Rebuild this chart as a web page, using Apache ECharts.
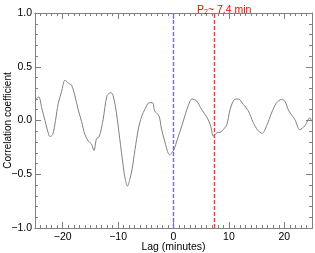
<!DOCTYPE html>
<html><head><meta charset="utf-8">
<script src="https://cdn.jsdelivr.net/npm/echarts@6/dist/echarts.min.js"></script>
<style>html,body{margin:0;padding:0;background:#fff}#c{width:315px;height:253px}</style>
</head><body><div id="c"></div>
<script>
var lags = [-25, -24.6, -24.3, -23.8, -23.2, -22.7, -22.3, -21.8, -21.3, -20.8, -20.2, -19.6, -19.2, -18.8, -18.4, -17.8, -17.2, -16.6, -16.0, -15.4, -14.8, -14.35, -13.9, -13.4, -12.7, -12.0, -11.3, -10.9, -10.3, -9.7, -9.06, -8.7, -8.3, -7.9, -7.5, -6.95, -6.35, -5.74, -5.1, -4.4, -3.76, -3.4, -2.6, -2.2, -1.6, -0.7, -0.3, 0.1, 0.66, 1.5, 2.4, 3.0, 3.3, 4.2, 5.1, 6.1, 6.7, 7.2, 7.8, 8.4, 8.7, 9.6, 10.2, 11.0, 11.7, 12.6, 13.5, 14.4, 15.2, 16.0, 16.8, 17.7, 18.6, 19.5, 20.1, 20.8, 21.9, 22.8, 23.7, 24.6, 25];
var corr = [0.19, 0.21, 0.22, 0.12, 0.0, -0.1, -0.15, -0.13, 0.0, 0.16, 0.27, 0.375, 0.36, 0.34, 0.33, 0.23, 0.1, -0.01, -0.13, -0.19, -0.22, -0.28, -0.17, -0.15, 0.01, 0.23, 0.26, 0.23, 0.07, -0.17, -0.43, -0.55, -0.61, -0.55, -0.46, -0.27, -0.08, 0.04, 0.11, 0.165, 0.165, 0.09, 0.04, -0.07, -0.19, -0.32, -0.3, -0.27, -0.18, -0.05, 0.1, 0.18, 0.2, 0.18, 0.1, 0.025, -0.05, -0.145, -0.115, -0.11, -0.1, -0.04, 0.1, 0.195, 0.2, 0.15, 0.09, -0.02, -0.09, -0.12, -0.05, 0.07, 0.165, 0.195, 0.18, 0.09, 0.01, -0.085, -0.05, 0.025, -0.01];
var xMajorTicks = [-20, -10, 0, 10, 20];
var xTickLabels = ['\u221220', '\u221210', '0', '10', '20'];
var yTickLabels = {'-1': '\u22121.0', '-0.5': '\u22120.5', '0': '0.0', '0.5': '0.5', '1': '1.0'};
var markerLags = [0, 7.4];
var markerColors = ['#6a6aff', '#ff3333'];

var F = 'Liberation Sans, Arial, Helvetica, sans-serif';
var chart = echarts.init(document.getElementById('c'));
function axLine() { return {show: true, onZero: false, lineStyle: {color: '#808080', width: 1}}; }
function xAx(pos, major, labels) {
  var a = {
    type: 'value', position: pos, min: -25, max: 25, interval: 1,
    axisLine: axLine(), splitLine: {show: false},
    axisTick: {show: true, inside: true, length: major ? 6 : 3, lineStyle: {color: '#808080'}},
    axisLabel: {show: false}
  };
  if (major) a.axisTick.customValues = xMajorTicks;
  if (labels) a.axisLabel = {show: true, customValues: xMajorTicks, color: '#000', fontFamily: F, fontSize: 10.5, margin: 4,
    formatter: function (v) { return xTickLabels[xMajorTicks.indexOf(v)]; }};
  return a;
}
function yAx(pos, labels) {
  return {
    type: 'value', position: pos, min: -1, max: 1, interval: 0.5,
    axisLine: axLine(), splitLine: {show: false},
    axisTick: {show: true, inside: true, length: 6, lineStyle: {color: '#808080'}},
    minorTick: {show: true, splitNumber: 5, length: 3, lineStyle: {color: '#808080'}},
    axisLabel: labels ? {show: true, color: '#000', fontFamily: F, fontSize: 10.5, margin: 3,
      formatter: function (v) { return yTickLabels[String(v)]; }} : {show: false},
    name: labels ? 'Correlation coefficient' : '', nameLocation: 'middle', nameGap: 27, nameMoveOverlap: false,
    nameTextStyle: {color: '#000', fontFamily: F, fontSize: 10, verticalAlign: 'middle'}
  };
}
var xa1 = xAx('bottom', false, true);
xa1.name = 'Lag (minutes)'; xa1.nameLocation = 'middle'; xa1.nameGap = 14; xa1.nameMoveOverlap = false;
xa1.nameTextStyle = {color: '#000', fontFamily: F, fontSize: 10.5, verticalAlign: 'top'};

var data = lags.map(function (l, i) { return [l, corr[i]]; });
var series = [{
  type: 'line', data: data, xAxisIndex: 0, yAxisIndex: 0, symbol: 'none', smooth: 0.3,
  lineStyle: {color: '#808080', width: 1}, z: 3
}];
markerLags.forEach(function (m, i) {
  series.push({type: 'line', data: [[m, -1], [m, 1]], xAxisIndex: 0, yAxisIndex: 0, symbol: 'none',
    lineStyle: {color: markerColors[i], width: 1.4, type: [4, 2]}, z: 2});
});

chart.setOption({
  animation: false,
  grid: {left: 35, right: 3, top: 13, bottom: 25, outerBoundsMode: 'none', containLabel: false},
  title: {
    text: '{a|P}{s|2}{a|~ 7.4 min}', left: 192, top: -1,
    textStyle: {fontWeight: 'normal', rich: {
      a: {color: '#ff0000', fontFamily: F, fontSize: 10.5, fontWeight: 'normal'},
      s: {color: '#ff0000', fontFamily: F, fontSize: 7, fontWeight: 'normal', verticalAlign: 'bottom', padding: [5, 0, 0, 0]}
    }}
  },
  xAxis: [xa1, xAx('bottom', true, false), xAx('top', false, false), xAx('top', true, false)],
  yAxis: [yAx('left', true), yAx('right', false)],
  series: series
});
</script></body></html>
